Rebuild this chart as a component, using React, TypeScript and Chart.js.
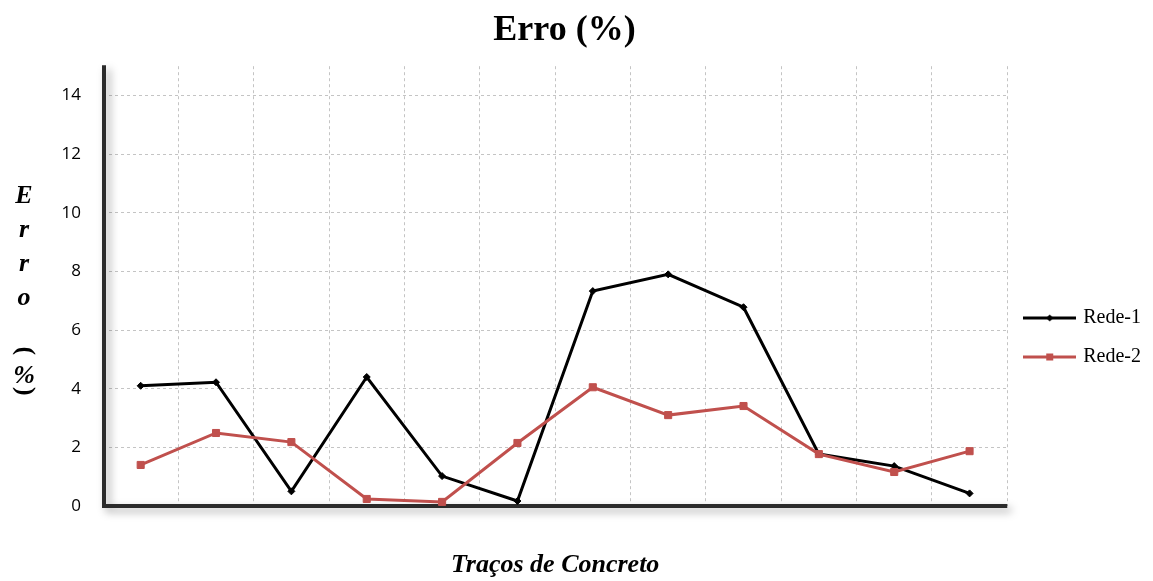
import React, { useEffect, useRef } from 'react';
import { Chart, registerables } from 'chart.js';

Chart.register(...registerables);

const categories = ['1', '2', '3', '4', '5', '6', '7', '8', '9', '10', '11', '12'];
const rede1 = [4.1, 4.22, 0.5, 4.4, 1.02, 0.17, 7.33, 7.9, 6.78, 1.77, 1.36, 0.43];
const rede2 = [1.4, 2.49, 2.18, 0.24, 0.14, 2.15, 4.05, 3.1, 3.41, 1.77, 1.16, 1.87];
const seriesNames = ['Rede-1', 'Rede-2'];
const seriesColors = ['#000000', '#C0504D'];
const yMin = 0;
const yMax = 15;
const yStep = 2;
const chartTitle = 'Erro (%)';
const xAxisTitle = 'Traços de Concreto';
const yAxisTitleChars = ['E', 'r', 'r', 'o', '(', '%', ')'];

const SERIF = '"Liberation Serif", "Times New Roman", serif';

function makeLegendIcon(color: string, shape: 'diamond' | 'square') {
  const c = document.createElement('canvas');
  c.width = 53;
  c.height = 12;
  const ctx = c.getContext('2d')!;
  ctx.strokeStyle = color;
  ctx.lineWidth = 3;
  ctx.beginPath();
  ctx.moveTo(0, 6);
  ctx.lineTo(53, 6);
  ctx.stroke();
  ctx.fillStyle = color;
  const cx = 26.5;
  const cy = 6;
  if (shape === 'diamond') {
    ctx.beginPath();
    ctx.moveTo(cx, cy - 3.5);
    ctx.lineTo(cx + 3.5, cy);
    ctx.lineTo(cx, cy + 3.5);
    ctx.lineTo(cx - 3.5, cy);
    ctx.closePath();
    ctx.fill();
  } else {
    ctx.fillRect(cx - 3.5, cy - 3.5, 7, 7);
  }
  return c;
}

const titleShiftPlugin = {
  id: 'titleShift',
  afterLayout(chart: any) {
    const t = chart.titleBlock;
    if (t) {
      t.left -= 11;
      t.right -= 11;
    }
  },
};

const axesPlugin = {
  id: 'axesShadow',
  beforeDatasetsDraw(chart: any) {
    const { ctx, chartArea } = chart;
    const { left, right, top, bottom } = chartArea;
    ctx.save();
    ctx.strokeStyle = '#2b2b2b';
    ctx.lineWidth = 4;
    ctx.lineJoin = 'miter';
    ctx.shadowColor = 'rgba(0,0,0,0.35)';
    ctx.shadowBlur = 8;
    ctx.shadowOffsetX = 4;
    ctx.shadowOffsetY = 4;
    ctx.beginPath();
    ctx.moveTo(left + 1, top - 1);
    ctx.lineTo(left + 1, bottom);
    ctx.lineTo(right, bottom);
    ctx.stroke();
    ctx.restore();
  },
};

function drawRotatedCentered(ctx: CanvasRenderingContext2D, ch: string, x: number, y: number) {
  ctx.save();
  ctx.translate(x, y);
  ctx.rotate(Math.PI / 2);
  ctx.textAlign = 'left';
  ctx.textBaseline = 'alphabetic';
  const m = ctx.measureText(ch);
  const aL = m.actualBoundingBoxLeft;
  const aR = m.actualBoundingBoxRight;
  const aA = m.actualBoundingBoxAscent;
  const aD = m.actualBoundingBoxDescent;
  ctx.fillText(ch, -(aR - aL) / 2, -(aD - aA) / 2);
  ctx.restore();
}

const yTitlePlugin = {
  id: 'stackedYTitle',
  afterDraw(chart: any) {
    const { ctx } = chart;
    ctx.save();
    ctx.fillStyle = '#000';
    ctx.font = `italic bold 26px ${SERIF}`;
    ctx.textAlign = 'center';
    ctx.textBaseline = 'alphabetic';
    const x = 24;
    const baselines = [203, 237, 271, 305];
    for (let i = 0; i < 4; i++) {
      ctx.fillText(yAxisTitleChars[i], x, baselines[i]);
    }
    ctx.fillText(yAxisTitleChars[5], x, 383);
    ctx.font = `bold 26px ${SERIF}`;
    drawRotatedCentered(ctx, yAxisTitleChars[4], x, 351);
    drawRotatedCentered(ctx, yAxisTitleChars[6], x, 391);
    ctx.restore();
  },
};

export default function App() {
  const canvasRef = useRef<HTMLCanvasElement | null>(null);

  useEffect(() => {
    if (!canvasRef.current) return;
    const icons = [makeLegendIcon(seriesColors[0], 'diamond'), makeLegendIcon(seriesColors[1], 'square')];
    const chart = new Chart(canvasRef.current, {
      type: 'line',
      data: {
        labels: categories,
        datasets: [
          {
            label: seriesNames[0],
            data: rede1,
            borderColor: seriesColors[0],
            backgroundColor: seriesColors[0],
            borderWidth: 3,
            pointStyle: 'rectRot',
            pointRadius: 3.5,
            pointBorderWidth: 1,
            pointBackgroundColor: seriesColors[0],
            pointBorderColor: seriesColors[0],
            tension: 0,
            order: 1,
          },
          {
            label: seriesNames[1],
            data: rede2,
            borderColor: seriesColors[1],
            backgroundColor: seriesColors[1],
            borderWidth: 3,
            pointStyle: 'rect',
            pointRadius: 5,
            pointBorderWidth: 1,
            pointBackgroundColor: seriesColors[1],
            pointBorderColor: seriesColors[1],
            tension: 0,
            order: 0,
          },
        ],
      },
      options: {
        animation: false,
        responsive: false,
        maintainAspectRatio: false,
        layout: { padding: { left: 0, right: 2, top: 0, bottom: 0 } },
        plugins: {
          tooltip: { enabled: false },
          title: {
            display: true,
            text: chartTitle,
            color: '#000',
            font: { family: SERIF, size: 36, weight: 'bold', lineHeight: 1.2 },
            padding: { top: 9, bottom: 14 },
          },
          legend: {
            display: true,
            position: 'right',
            align: 'center',
            title: {
              display: true,
              text: '',
              font: { size: 4, lineHeight: 1 },
              padding: { top: 90, bottom: 0 },
            },
            labels: {
              color: '#000',
              font: { family: SERIF, size: 20 },
              padding: 19,
              usePointStyle: true,
              pointStyleWidth: 47,
              generateLabels: (ch: any) =>
                ch.data.datasets.map((ds: any, i: number) => ({
                  text: ds.label,
                  fillStyle: ds.borderColor,
                  strokeStyle: ds.borderColor,
                  fontColor: '#000',
                  lineWidth: 0,
                  pointStyle: icons[i],
                  hidden: false,
                  datasetIndex: i,
                })),
            },
          },
        },
        scales: {
          x: {
            type: 'category',
            offset: true,
            ticks: { display: false },
            grid: { offset: true, color: '#c4c4c4', lineWidth: 1, drawTicks: false },
            border: { display: false, dash: [3, 3] },
            title: {
              display: true,
              text: xAxisTitle,
              color: '#000',
              font: { family: SERIF, size: 26, weight: 'bold', style: 'italic', lineHeight: 1.2 },
              padding: { top: 40, bottom: 0 },
            },
            afterFit: (scale: any) => {
              scale.height = 75;
            },
          },
          y: {
            min: yMin,
            max: yMax,
            ticks: {
              stepSize: yStep,
              includeBounds: false,
              padding: 22,
              color: '#000',
              font: { family: '"Open Sans", sans-serif', size: 17 },
            },
            grid: { color: '#c4c4c4', lineWidth: 1, drawTicks: false },
            border: { display: false, dash: [3, 3] },
            afterFit: (scale: any) => {
              scale.width = 103;
            },
          },
        },
      },
      plugins: [titleShiftPlugin, axesPlugin, yTitlePlugin],
    });
    return () => chart.destroy();
  }, []);

  return (
    <div style={{ position: 'absolute', left: 0, top: 0, width: 1153, height: 581, background: '#fff' }}>
      <canvas ref={canvasRef} width={1153} height={581} style={{ display: 'block', width: 1153, height: 581 }} />
    </div>
  );
}
